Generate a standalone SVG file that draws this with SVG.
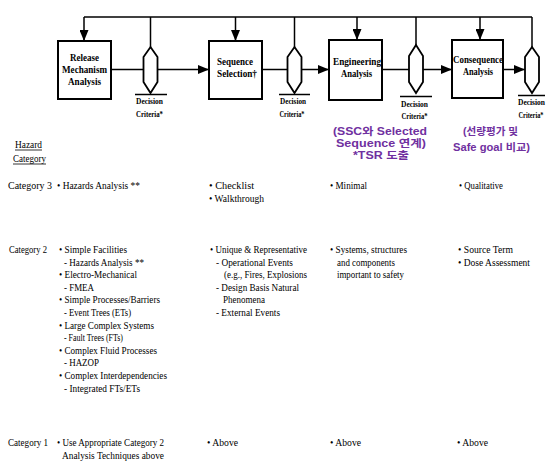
<svg xmlns="http://www.w3.org/2000/svg" width="557" height="469" viewBox="0 0 557 469">
<defs>
<marker id="arr" viewBox="0 0 11 9" refX="11" refY="4.5" markerWidth="11" markerHeight="9" orient="auto" markerUnits="userSpaceOnUse"><path d="M0,0 L11,4.5 L0,9 Z" fill="#000"/></marker>
<style>
.box{fill:#fff;stroke:#000;stroke-width:2}
.hex{fill:#fff;stroke:#000;stroke-width:1.8}
.ln{fill:none;stroke:#000;stroke-width:1.5}
.ul{stroke:#000;stroke-width:1.5}
.bl{font-family:"Liberation Serif","Times New Roman",serif;font-weight:bold;font-size:10.3px;fill:#000;text-anchor:middle}
.dc{font-family:"Liberation Serif","Times New Roman",serif;font-weight:bold;font-size:9px;fill:#000;text-anchor:middle}
.t{font-family:"Liberation Serif","Times New Roman",serif;font-size:11px;fill:#000}
.k{font-family:"Liberation Sans","Noto Sans CJK KR",sans-serif;font-weight:bold;font-size:10.5px;fill:#7030a0}
</style>
</defs>
<rect width="557" height="469" fill="#fff"/>

<g id="connectors">
<path class="ln" d="M84,17 H532"/>
<path class="ln" d="M84,17 V41" marker-end="url(#arr)"/>
<path class="ln" d="M235.5,17 V41" marker-end="url(#arr)"/>
<path class="ln" d="M357,17 V40" marker-end="url(#arr)"/>
<path class="ln" d="M480,17 V40" marker-end="url(#arr)"/>
<path class="ln" d="M150.5,17 V47"/>
<path class="ln" d="M294.5,17 V47"/>
<path class="ln" d="M416,17 V45"/>
<path class="ln" d="M532,17 V47"/>
<path class="ln" d="M111,69.5 H144"/>
<path class="ln" d="M157,69.5 H209" marker-end="url(#arr)"/>
<path class="ln" d="M262,69.5 H288"/>
<path class="ln" d="M301,69.5 H329" marker-end="url(#arr)"/>
<path class="ln" d="M382,69.5 H409"/>
<path class="ln" d="M423,69.5 H452" marker-end="url(#arr)"/>
<path class="ln" d="M503,69.5 H525" marker-end="url(#arr)"/>
</g>

<g id="box1">
<rect class="box" x="58" y="41" width="53" height="58"/>
<text class="bl" x="84.5" y="60.5" textLength="29" lengthAdjust="spacingAndGlyphs">Release</text>
<text class="bl" x="84.5" y="72.5" textLength="45" lengthAdjust="spacingAndGlyphs">Mechanism</text>
<text class="bl" x="84.5" y="84.5" textLength="33" lengthAdjust="spacingAndGlyphs">Analysis</text>
</g>
<g id="box2">
<rect class="box" x="209" y="41" width="53" height="58"/>
<text class="bl" x="235" y="65" textLength="36" lengthAdjust="spacingAndGlyphs">Sequence</text>
<text class="bl" x="237" y="77" textLength="40" lengthAdjust="spacingAndGlyphs">Selection†</text>
</g>
<g id="box3">
<rect class="box" x="329" y="40" width="53" height="60"/>
<text class="bl" x="357" y="64.5" textLength="48" lengthAdjust="spacingAndGlyphs">Engineering</text>
<text class="bl" x="356.5" y="76.5" textLength="31" lengthAdjust="spacingAndGlyphs">Analysis</text>
</g>
<g id="box4">
<rect class="box" x="452" y="40" width="51" height="58"/>
<text class="bl" x="478" y="62.5" textLength="50" lengthAdjust="spacingAndGlyphs">Consequence</text>
<text class="bl" x="478" y="74.5" textLength="30" lengthAdjust="spacingAndGlyphs">Analysis</text>
</g>

<g id="decision1">
<path class="hex" d="M150.5,47 L157.5,57 V82 L150.5,93 L143.5,82 V57 Z"/>
<line class="ul" x1="135" y1="94.5" x2="167" y2="94.5"/>
<text class="dc" x="149.5" y="104" textLength="27" lengthAdjust="spacingAndGlyphs">Decision</text>
<text class="dc" x="149.5" y="117" textLength="27" lengthAdjust="spacingAndGlyphs">Criteria*</text>
</g>
<g id="decision2">
<path class="hex" d="M294.5,47 L301.5,57 V82 L294.5,93 L287.5,82 V57 Z"/>
<line class="ul" x1="279" y1="94.5" x2="310" y2="94.5"/>
<text class="dc" x="293" y="104" textLength="26" lengthAdjust="spacingAndGlyphs">Decision</text>
<text class="dc" x="292" y="117" textLength="25" lengthAdjust="spacingAndGlyphs">Criteria*</text>
</g>
<g id="decision3">
<path class="hex" d="M416,45 L423,56 V82 L416,93 L409,82 V56 Z"/>
<line class="ul" x1="400" y1="96.5" x2="432" y2="96.5"/>
<text class="dc" x="414.5" y="106.5" textLength="27" lengthAdjust="spacingAndGlyphs">Decision</text>
<text class="dc" x="414.5" y="119" textLength="26" lengthAdjust="spacingAndGlyphs">Criteria*</text>
</g>
<g id="decision4">
<path class="hex" d="M532,47 L539,57 V82 L532,93 L525,82 V57 Z"/>
<line class="ul" x1="518" y1="95.5" x2="545" y2="95.5"/>
<text class="dc" x="531.5" y="104.5" textLength="27" lengthAdjust="spacingAndGlyphs">Decision</text>
<text class="dc" x="531" y="117.5" textLength="25" lengthAdjust="spacingAndGlyphs">Criteria*</text>
</g>

<g id="notes">
<text class="k" x="333" y="135" textLength="94" lengthAdjust="spacingAndGlyphs">(SSC와 Selected</text>
<text class="k" x="336" y="147" textLength="90" lengthAdjust="spacingAndGlyphs">Sequence 연계)</text>
<text class="k" x="353" y="159" textLength="56" lengthAdjust="spacingAndGlyphs">*TSR 도출</text>
<text class="k" x="463" y="135" textLength="55" lengthAdjust="spacingAndGlyphs">(선량평가 및</text>
<text class="k" x="453" y="151" textLength="77" lengthAdjust="spacingAndGlyphs">Safe goal 비교)</text>
</g>

<g id="header">
<text class="t" x="15" y="148" textLength="27" lengthAdjust="spacingAndGlyphs">Hazard</text>
<line x1="15" y1="150" x2="42" y2="150" stroke="#000" stroke-width="0.8"/>
<text class="t" x="13" y="162" textLength="33" lengthAdjust="spacingAndGlyphs">Category</text>
<line x1="13" y1="164" x2="46" y2="164" stroke="#000" stroke-width="0.8"/>
</g>

<g id="row3">
<text class="t" x="8" y="189" textLength="44" lengthAdjust="spacingAndGlyphs">Category  3</text>
<text class="t" x="57" y="189" textLength="83" lengthAdjust="spacingAndGlyphs">• Hazards Analysis **</text>
<text class="t" x="209" y="189" textLength="45" lengthAdjust="spacingAndGlyphs">• Checklist</text>
<text class="t" x="209" y="202" textLength="55" lengthAdjust="spacingAndGlyphs">• Walkthrough</text>
<text class="t" x="330" y="189" textLength="37" lengthAdjust="spacingAndGlyphs">• Minimal</text>
<text class="t" x="459" y="189" textLength="44" lengthAdjust="spacingAndGlyphs">• Qualitative</text>
</g>

<g id="row2">
<text class="t" x="9" y="253" textLength="38" lengthAdjust="spacingAndGlyphs">Category 2</text>
<text class="t" x="59" y="253" textLength="68" lengthAdjust="spacingAndGlyphs">• Simple Facilities</text>
<text class="t" x="64" y="265.6" textLength="80" lengthAdjust="spacingAndGlyphs">- Hazards Analysis **</text>
<text class="t" x="59" y="278.2" textLength="78" lengthAdjust="spacingAndGlyphs">• Electro-Mechanical</text>
<text class="t" x="64" y="290.8" textLength="30" lengthAdjust="spacingAndGlyphs">- FMEA</text>
<text class="t" x="59" y="303.4" textLength="101" lengthAdjust="spacingAndGlyphs">• Simple Processes/Barriers</text>
<text class="t" x="64" y="316" textLength="67" lengthAdjust="spacingAndGlyphs">- Event Trees (ETs)</text>
<text class="t" x="59" y="328.6" textLength="95" lengthAdjust="spacingAndGlyphs">• Large Complex Systems</text>
<text class="t" x="64" y="341.2" textLength="59" lengthAdjust="spacingAndGlyphs">- Fault Trees (FTs)</text>
<text class="t" x="59" y="353.8" textLength="98" lengthAdjust="spacingAndGlyphs">• Complex Fluid Processes</text>
<text class="t" x="64" y="366.4" textLength="35" lengthAdjust="spacingAndGlyphs">- HAZOP</text>
<text class="t" x="59" y="379" textLength="108" lengthAdjust="spacingAndGlyphs">• Complex Interdependencies</text>
<text class="t" x="64" y="391.6" textLength="76" lengthAdjust="spacingAndGlyphs">- Integrated FTs/ETs</text>

<text class="t" x="210" y="253" textLength="97" lengthAdjust="spacingAndGlyphs">• Unique &amp; Representative</text>
<text class="t" x="216" y="265.6" textLength="77" lengthAdjust="spacingAndGlyphs">- Operational Events</text>
<text class="t" x="224" y="278.2" textLength="83" lengthAdjust="spacingAndGlyphs">(e.g., Fires, Explosions</text>
<text class="t" x="216" y="290.8" textLength="83" lengthAdjust="spacingAndGlyphs">- Design Basis Natural</text>
<text class="t" x="223" y="303.4" textLength="42" lengthAdjust="spacingAndGlyphs">Phenomena</text>
<text class="t" x="216" y="316" textLength="64" lengthAdjust="spacingAndGlyphs">- External Events</text>

<text class="t" x="330" y="253" textLength="77" lengthAdjust="spacingAndGlyphs">• Systems, structures</text>
<text class="t" x="337" y="265.6" textLength="58" lengthAdjust="spacingAndGlyphs">and components</text>
<text class="t" x="337" y="278.2" textLength="67" lengthAdjust="spacingAndGlyphs">important to safety</text>

<text class="t" x="458" y="253" textLength="55" lengthAdjust="spacingAndGlyphs">• Source Term</text>
<text class="t" x="458" y="265.6" textLength="72" lengthAdjust="spacingAndGlyphs">• Dose Assessment</text>
</g>

<g id="row1">
<text class="t" x="8" y="446" textLength="40" lengthAdjust="spacingAndGlyphs">Category 1</text>
<text class="t" x="57" y="446" textLength="107" lengthAdjust="spacingAndGlyphs">• Use Appropriate Category 2</text>
<text class="t" x="62" y="458.5" textLength="102" lengthAdjust="spacingAndGlyphs">Analysis Techniques  above</text>
<text class="t" x="207" y="446" textLength="31" lengthAdjust="spacingAndGlyphs">• Above</text>
<text class="t" x="330" y="446" textLength="31" lengthAdjust="spacingAndGlyphs">• Above</text>
<text class="t" x="457" y="446" textLength="31" lengthAdjust="spacingAndGlyphs">• Above</text>
</g>
</svg>
